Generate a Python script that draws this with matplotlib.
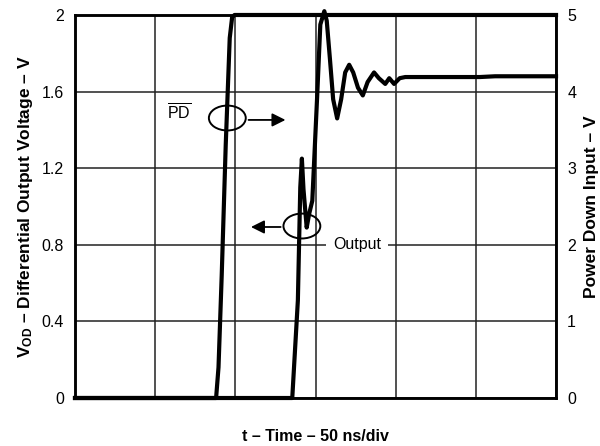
import matplotlib
matplotlib.use("Agg")
import matplotlib.pyplot as plt
from matplotlib.patches import Ellipse

plt.rcParams['font.family'] = ['Liberation Sans', 'DejaVu Sans']
plt.rcParams['mathtext.fontset'] = 'custom'
plt.rcParams['mathtext.rm'] = 'Liberation Sans'
plt.rcParams['mathtext.bf'] = 'Liberation Sans:bold'

# time in divisions (50 ns/div)
pd_t = [0, 1.76, 1.79, 1.83, 1.88, 1.93, 1.96, 1.99, 6]
pd_v = [0, 0, 0.4, 1.6, 3.3, 4.7, 4.97, 5.0, 5.0]

out_t = [0, 2.66, 2.71, 2.78, 2.81, 2.83, 2.85, 2.89, 2.92, 2.96, 3.02, 3.06,
         3.11, 3.14, 3.18, 3.22, 3.27, 3.32, 3.37, 3.42, 3.47, 3.53, 3.59,
         3.65, 3.73, 3.79, 3.87, 3.92, 3.98, 4.05, 4.12, 5.05, 5.24, 6]
out_v = [0, 0, 0, 0.51, 1.10, 1.25, 1.09, 0.89, 0.96, 1.03, 1.57, 1.95,
         2.02, 1.97, 1.77, 1.56, 1.46, 1.56, 1.70, 1.74, 1.70, 1.62, 1.58,
         1.65, 1.70, 1.67, 1.64, 1.67, 1.64, 1.67, 1.676, 1.676, 1.68, 1.68]

left_ticks = [0, 0.4, 0.8, 1.2, 1.6, 2]
left_labels = ['0', '0.4', '0.8', '1.2', '1.6', '2']
right_ticks = [0, 1, 2, 3, 4, 5]

fig = plt.figure(figsize=(6, 4.46), dpi=100)
ax = fig.add_axes([0.125, 0.1076, 0.8017, 0.8588])
ax2 = ax.twinx()

ax.set_xlim(0, 6)
ax.set_ylim(0, 2)
ax2.set_ylim(0, 5)
ax.set_xticks(range(7))
ax.set_xticklabels([])
ax.set_yticks(left_ticks)
ax.set_yticklabels(left_labels)
ax2.set_yticks(right_ticks)
ax.tick_params(length=0, labelsize=11.5, pad=8)
ax2.tick_params(length=0, labelsize=11.5, pad=8)
ax.grid(True, color='#222222', lw=1.1)
for a in (ax, ax2):
    for s in a.spines.values():
        s.set_linewidth(1.8)
        s.set_color('black')

ax.plot(out_t, out_v, color='black', lw=3.0, clip_on=False, zorder=5)
ax2.plot(pd_t, pd_v, color='black', lw=3.0, clip_on=False, zorder=5)

# annotation markers
ax2.add_patch(Ellipse((1.90, 1.462 * 2.5), 0.46, 0.13 * 2.5, fill=False,
                      ec='black', lw=1.4, zorder=6))
ax2.annotate('', xy=(2.66, 1.452 * 2.5), xytext=(2.13, 1.452 * 2.5),
             arrowprops=dict(arrowstyle='-|>', color='black', lw=1.3,
                             mutation_scale=20), zorder=6)
ax2.text(1.15, 1.49 * 2.5, r'$\overline{\mathrm{PD}}$', fontsize=11.5,
         va='center', ha='left')

ax2.add_patch(Ellipse((2.83, 0.898 * 2.5), 0.46, 0.13 * 2.5, fill=False,
                      ec='black', lw=1.4, zorder=6))
ax2.annotate('', xy=(2.16, 0.893 * 2.5), xytext=(2.60, 0.893 * 2.5),
             arrowprops=dict(arrowstyle='-|>', color='black', lw=1.3,
                             mutation_scale=20), zorder=6)
ax2.text(3.22, 0.80 * 2.5, 'Output', fontsize=11.5, va='center', ha='left',
         bbox=dict(facecolor='white', edgecolor='none', pad=5), zorder=4)

ax.set_ylabel(r'$\mathbf{V_{OD}}$ – Differential Output Voltage – V',
              fontsize=12.5, fontweight='bold', labelpad=5)
ax2.set_ylabel('Power Down Input – V', fontsize=12.5, fontweight='bold',
               labelpad=6)
ax.set_xlabel('t – Time – 50 ns/div', fontsize=11.5, fontweight='bold',
              labelpad=14)

fig.savefig('out.png', dpi=100)
